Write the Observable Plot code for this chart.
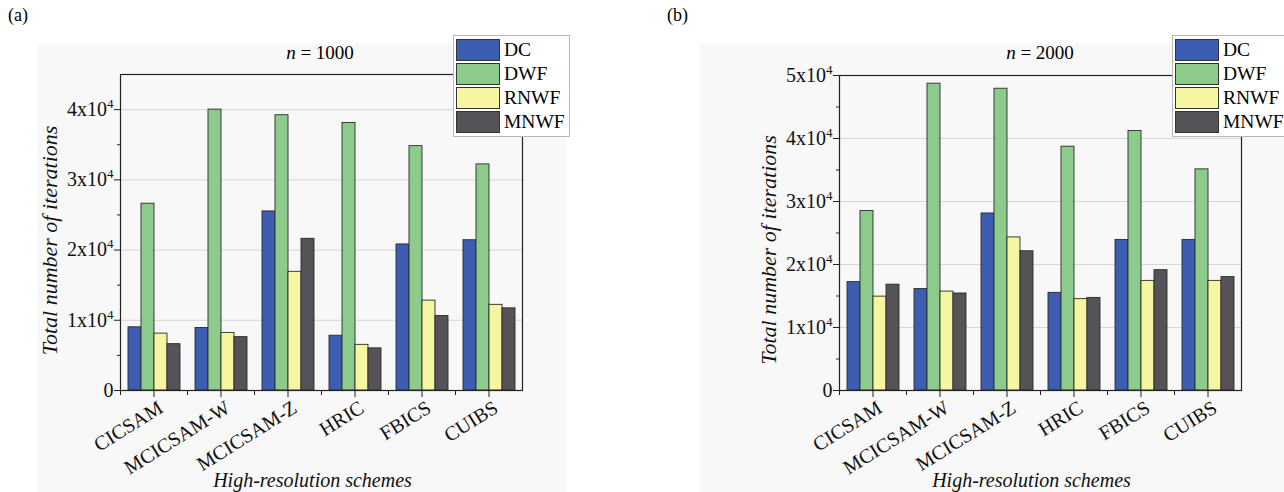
<!DOCTYPE html>
<html><head><meta charset="utf-8">
<script src="https://cdn.jsdelivr.net/npm/d3@7"></script>
<script src="https://cdn.jsdelivr.net/npm/@observablehq/plot@0.6"></script>
<style>
body{margin:0;background:#fff;font-family:"Liberation Serif",serif;}
#root{position:relative;width:1284px;height:492px;overflow:hidden;background:#fff;}
.bg{position:absolute;background:#f8f8f8;}
.panel{position:absolute;top:0;}
.tag{position:absolute;font-size:18px;top:5px;}
.title{position:absolute;font-size:19px;transform:translate(-50%,-50%);white-space:nowrap;}
.legend{position:absolute;background:#fff;border:1px solid #b8b8b8;padding:2px 4px 2px 2px;}
.row{display:flex;align-items:center;height:24px;}
.sw{width:44px;height:22px;border:1px solid #333;margin-right:4px;box-sizing:border-box;}
.lab{font-size:19.5px;line-height:20px;}
g[aria-label="y-axis label"] text{font-style:italic;font-size:22px;}
g[aria-label="fx-axis label"] text{font-style:italic;font-size:20px;}
g[aria-label="y-axis tick label"] text{font-size:20px;}
g[aria-label="fx-axis tick label"] text{font-size:20px;}
</style>
</head><body>
<div id="root"></div>
<script>
const schemes = ["CICSAM","MCICSAM-W","MCICSAM-Z","HRIC","FBICS","CUIBS"];
const series = ["DC","DWF","RNWF","MNWF"];
const colors = ["#3d5db2","#8dcb8d","#f6f5a2","#555357"];
const majorTicksA = [0,10000,20000,30000,40000];
const majorTicksB = [0,10000,20000,30000,40000,50000];
// n = 1000
const dc1000   = [9000, 8900, 25500, 7800, 20800, 21400];
const dwf1000  = [26600, 40000, 39200, 38100, 34800, 32200];
const rnwf1000 = [8100, 8200, 16900, 6500, 12800, 12200];
const mnwf1000 = [6600, 7600, 21600, 6000, 10600, 11700];
// n = 2000
const dc2000   = [17200, 16100, 28100, 15500, 23900, 23900];
const dwf2000  = [28500, 48700, 47900, 38700, 41200, 35100];
const rnwf2000 = [14900, 15700, 24300, 14500, 17400, 17400];
const mnwf2000 = [16800, 15400, 22100, 14700, 19100, 18000];

function rows(arrs){
  const out=[];
  schemes.forEach((s,i)=>series.forEach((k,j)=>out.push({scheme:s,series:k,value:arrs[j][i]})));
  return out;
}
function fmt(d){return d===0?"0":`${d/10000}x10⁴`;}

function shift(t, tr){ t.setAttribute("transform", (t.getAttribute("transform")||"") + " " + tr); }

function chart(data, yMax, majors, o){
  const minors = d3.range(5000, yMax, 10000);
  const innerH = 492 - o.mt - 102;
  const svg = Plot.plot({
    width:o.width, height:492,
    marginLeft:o.ml, marginRight:o.mr, marginTop:o.mt, marginBottom:102,
    style:{fontFamily:'"Liberation Serif", serif', fontSize:"16px", background:"transparent", color:"#111"},
    fx:{domain:schemes, padding:0},
    x:{domain:series, axis:null, paddingInner:0, paddingOuter:0.4545},
    y:{domain:[0,yMax]},
    color:{domain:series, range:colors},
    marks:[
      Plot.gridY(majors.filter(d=>d>0 && d<yMax), {stroke:"#d6d6d6", strokeOpacity:1}),
      Plot.barY(data, {fx:"scheme", x:"series", y:"value", fill:"series", stroke:"#2b2b2b", strokeWidth:0.9}),
      Plot.frame({anchor:"left", insetTop:innerH, insetBottom:-4, stroke:"#222"}),
      Plot.axisY(minors, {tickSize:3, tickFormat:()=>"", label:null, stroke:"#222"}),
      Plot.axisY(majors, {tickSize:6, tickPadding:1, tickFormat:fmt, fontSize:20, stroke:"#222",
        label:"Total number of iterations", labelAnchor:"center", labelArrow:"none", labelOffset:o.lo}),
      Plot.axisFx({anchor:"bottom", tickSize:7, tickRotate:-32, fontSize:20, stroke:"#222",
        label:"High-resolution schemes", labelAnchor:"center", labelArrow:"none", labelOffset:96}),
      Plot.frame({facet:"super", stroke:"#222", strokeWidth:1.2})
    ]
  });
  svg.querySelectorAll('g[aria-label="y-axis tick label"] text').forEach(t=>{
    const s=t.textContent;
    if(s.endsWith("⁴")){
      t.textContent="";
      const a=document.createElementNS("http://www.w3.org/2000/svg","tspan");
      a.textContent=s.slice(0,-1);
      const b=document.createElementNS("http://www.w3.org/2000/svg","tspan");
      b.textContent="4"; b.setAttribute("dy","-8"); b.setAttribute("font-size","13");
      t.appendChild(a); t.appendChild(b);
    }
  });
  svg.querySelectorAll('g[aria-label="y-axis label"] text').forEach(t=>shift(t, `translate(${-o.ydown},0)`));
  svg.querySelectorAll('g[aria-label="fx-axis label"] text').forEach(t=>shift(t, "translate(-9,0)"));
  svg.querySelectorAll('g[aria-label="fx-axis tick label"] text').forEach(t=>{
    t.setAttribute("transform", "translate(7,2) " + (t.getAttribute("transform")||""));
  });
  return svg;
}

function legend(left){
  const L=document.createElement("div"); L.className="legend";
  L.style.left=left+"px"; L.style.top="35px";
  series.forEach((k,j)=>{
    const r=document.createElement("div"); r.className="row";
    const sw=document.createElement("div"); sw.className="sw"; sw.style.background=colors[j];
    const lb=document.createElement("div"); lb.className="lab"; lb.textContent=k;
    r.appendChild(sw); r.appendChild(lb); L.appendChild(r);
  });
  return L;
}

const root=document.getElementById("root");
function add(el){root.appendChild(el);return el;}
function div(cls, html, style){const d=document.createElement("div");d.className=cls;d.innerHTML=html;Object.assign(d.style,style);return add(d);}

div("bg","",{left:"38px",top:"44px",width:"528px",height:"448px"});
div("bg","",{left:"700px",top:"44px",width:"584px",height:"448px"});

const pa=document.createElement("div"); pa.className="panel"; pa.style.left="0px";
pa.appendChild(chart(rows([dc1000,dwf1000,rnwf1000,mnwf1000]),45000,majorTicksA,{width:640,ml:118,mr:117,mt:74,lo:79,ydown:8}));
add(pa);
const pb=document.createElement("div"); pb.className="panel"; pb.style.left="640px";
pb.appendChild(chart(rows([dc2000,dwf2000,rnwf2000,mnwf2000]),50000,majorTicksB,{width:644,ml:197,mr:42,mt:75,lo:79,ydown:17}));
add(pb);

div("tag","(a)",{left:"8px"});
div("tag","(b)",{left:"667px"});
div("title","<i>n</i> = 1000",{left:"320px",top:"53px"});
div("title","<i>n</i> = 2000",{left:"1040px",top:"53px"});
add(legend(453));
add(legend(1172));
</script>
</body></html>
